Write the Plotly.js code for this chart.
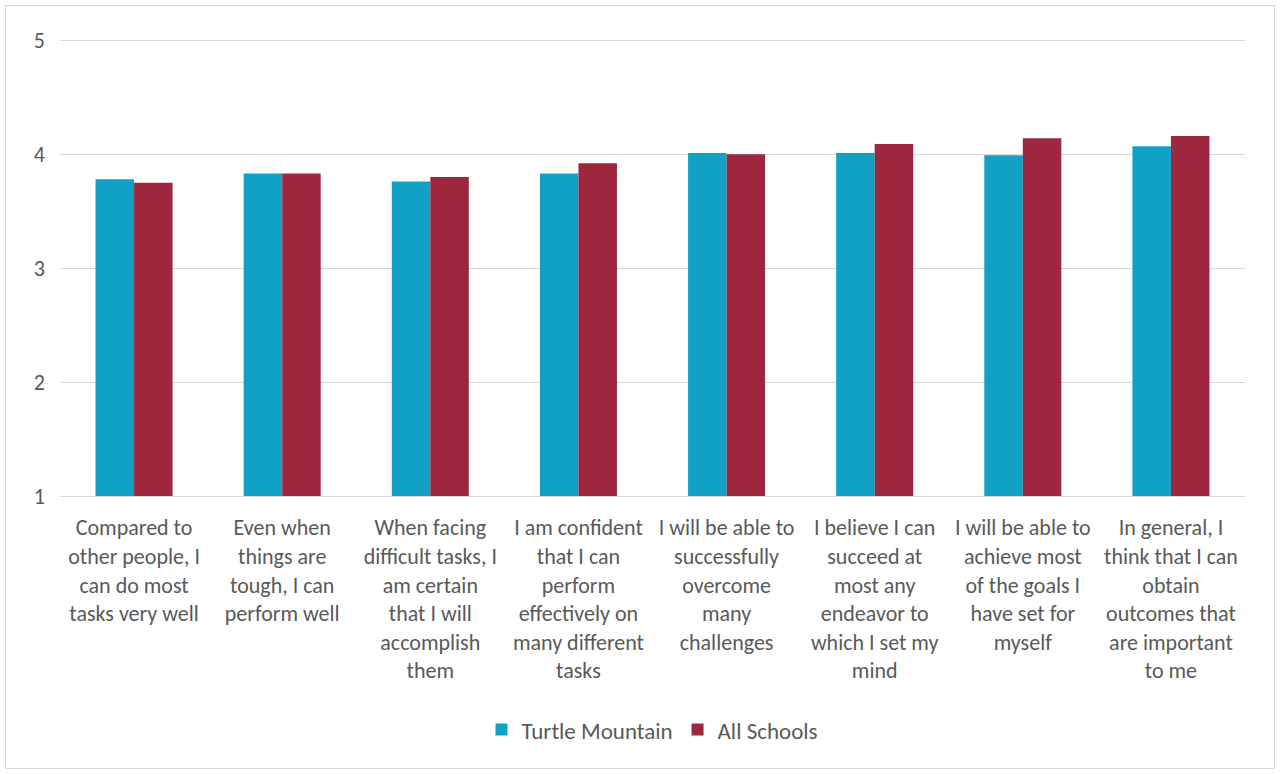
<!DOCTYPE html>
<html>
<head>
<meta charset="utf-8">
<script src="https://cdn.plot.ly/plotly-3.0.1.min.js"></script>
<style>
html,body{margin:0;padding:0;background:#fff;}
#chart{width:1280px;height:774px;}
#frame{position:absolute;left:5px;top:5px;width:1268px;height:762px;border:1px solid #d9d9d9;pointer-events:none;}
</style>
</head>
<body>
<div id="chart"></div>
<div id="frame"></div>
<script>
const categories = [
  "Compared to<br>other people, I<br>can do most<br>tasks very well",
  "Even when<br>things are<br>tough, I can<br>perform well",
  "When facing<br>difficult tasks, I<br>am certain<br>that I will<br>accomplish<br>them",
  "I am confident<br>that I can<br>perform<br>effectively on<br>many different<br>tasks",
  "I will be able to<br>successfully<br>overcome<br>many<br>challenges",
  "I believe I can<br>succeed at<br>most any<br>endeavor to<br>which I set my<br>mind",
  "I will be able to<br>achieve most<br>of the goals I<br>have set for<br>myself",
  "In general, I<br>think that I can<br>obtain<br>outcomes that<br>are important<br>to me"
];
const turtleMountain = [3.78, 3.83, 3.76, 3.83, 4.01, 4.01, 3.99, 4.07];
const allSchools = [3.75, 3.83, 3.80, 3.92, 4.00, 4.09, 4.14, 4.16];
const yTicks = [1, 2, 3, 4, 5];

const font = "Carlito, Calibri, 'Open Sans', 'Noto Sans', sans-serif";
const data = [
  {type:'bar', name:'Turtle Mountain', x:categories, y:turtleMountain,
   marker:{color:'#11a1c5'}},
  {type:'bar', name:'All Schools', x:categories, y:allSchools,
   marker:{color:'#9d283e'}}
];
const layout = {
  width:1280, height:774,
  margin:{l:60, r:35, t:38, b:278},
  paper_bgcolor:'#ffffff', plot_bgcolor:'#ffffff',
  font:{family:font, color:'#595959', size:22},
  barmode:'group', bargap:0.48, bargroupgap:0,
  xaxis:{type:'category', showgrid:false, showline:true, linecolor:'#d9d9d9', linewidth:1,
         ticks:'', tickangle:0, tickfont:{size:22, color:'#595959'}, ticklabelstandoff:12},
  yaxis:{range:[1,5.02], tickvals:yTicks, showgrid:true, gridcolor:'#d9d9d9', gridwidth:1,
         zeroline:false, ticks:'', tickfont:{size:22, color:'#595959'}, ticklabelstandoff:14},
  legend:{orientation:'h', x:0.5, xanchor:'center', y:-0.51, yanchor:'middle',
          font:{size:23, color:'#595959'}, itemwidth:30, traceorder:'normal'},
  showlegend:true
};
Plotly.newPlot('chart', data, layout, {displayModeBar:false, staticPlot:true});
</script>
</body>
</html>
